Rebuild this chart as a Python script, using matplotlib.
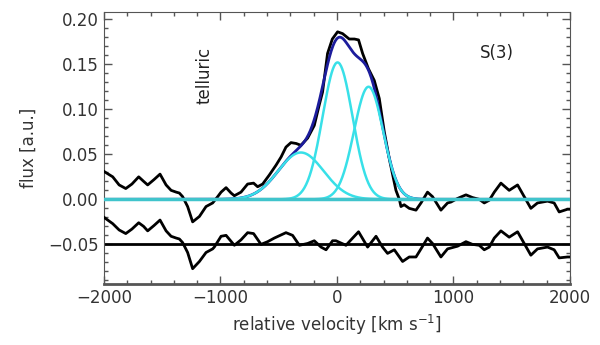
import matplotlib
matplotlib.use('Agg')
import matplotlib.pyplot as plt
import numpy as np

vel = [-2000, -1925, -1870, -1813, -1760, -1702, -1660, -1625, -1570, -1519,
       -1467, -1424, -1380, -1353, -1325, -1282, -1239, -1181, -1124, -1067,
       -1024, -995, -952, -909, -881, -824, -767, -716, -681, -638,
       -581, -523, -480, -438, -395, -350, -310, -252, -195, -152,
       -124, -81, -40, 5, 48, 105, 150, 185, 220, 270,
       320, 363, 406, 449, 506, 535, 549, 577, 620, 678,
       721, 777, 820, 892, 949, 978, 1035, 1107, 1163, 1221,
       1264, 1307, 1350, 1407, 1478, 1550, 1607, 1664, 1721, 1807,
       1864, 1907, 1978, 2000]
flux = [0.031, 0.025, 0.016, 0.012, 0.017, 0.025, 0.020, 0.016, 0.022, 0.028,
        0.016, 0.010, 0.008, 0.007, 0.003, -0.008, -0.025, -0.019, -0.008, -0.004,
        0.003, 0.008, 0.013, 0.007, 0.004, 0.008, 0.017, 0.018, 0.014, 0.017,
        0.027, 0.038, 0.047, 0.058, 0.063, 0.062, 0.060, 0.068, 0.082, 0.105,
        0.119, 0.162, 0.178, 0.186, 0.184, 0.178, 0.178, 0.177, 0.162, 0.145,
        0.132, 0.112, 0.075, 0.045, 0.010, 0.000, -0.008, -0.006, -0.010, -0.012,
        -0.004, 0.008, 0.003, -0.012, -0.004, -0.003, 0.001, 0.005, 0.002, 0.000,
        -0.004, -0.001, 0.008, 0.018, 0.010, 0.016, 0.003, -0.010, -0.004, -0.002,
        -0.004, -0.014, -0.011, -0.011]

# residuals, plotted with an offset of -0.05
res_vel = [-2000, -1925, -1870, -1813, -1760, -1702, -1660, -1625, -1570, -1519,
           -1467, -1424, -1380, -1353, -1325, -1282, -1239, -1181, -1124, -1067,
           -1053, -995, -952, -881, -824, -767, -716, -652, -595, -538,
           -438, -381, -323, -252, -195, -137, -94, -38, -9, 77,
           120, 185, 263, 335, 391, 434, 492, 563, 620, 678,
           721, 777, 820, 892, 949, 978, 1035, 1107, 1163, 1221,
           1264, 1307, 1350, 1407, 1478, 1550, 1607, 1664, 1721, 1807,
           1864, 1907, 1978, 2000]
res_flux = [-0.020, -0.027, -0.034, -0.038, -0.033, -0.026, -0.030, -0.035, -0.029, -0.023,
            -0.035, -0.041, -0.043, -0.044, -0.048, -0.059, -0.077, -0.069, -0.059, -0.055,
            -0.053, -0.041, -0.040, -0.051, -0.045, -0.037, -0.038, -0.050, -0.047, -0.043,
            -0.037, -0.040, -0.051, -0.049, -0.046, -0.053, -0.056, -0.046, -0.046, -0.051,
            -0.045, -0.036, -0.053, -0.041, -0.053, -0.060, -0.056, -0.069, -0.064, -0.064,
            -0.055, -0.043, -0.049, -0.064, -0.055, -0.054, -0.052, -0.047, -0.050, -0.051,
            -0.056, -0.053, -0.043, -0.035, -0.042, -0.036, -0.049, -0.062, -0.055, -0.053,
            -0.056, -0.065, -0.064, -0.064]

# gaussian components of the fit
comp_amp = [0.052, 0.152, 0.125]
comp_center = [-310, 5, 271]
comp_sigma = [195, 128, 125]


def execute():
    fig = plt.figure(figsize=(6, 3.45), dpi=100)
    ax = fig.add_axes([0.1733, 0.1768, 0.7767, 0.7884])

    v = np.linspace(-2000, 2000, 801)
    comps = [a * np.exp(-0.5 * ((v - c) / s) ** 2)
             for a, c, s in zip(comp_amp, comp_center, comp_sigma)]
    fit = np.sum(comps, axis=0)

    ax.axhline(-0.05, color='black', lw=2)
    ax.axhline(0.0, color='black', lw=1.5, zorder=2)
    ax.plot(vel, flux, color='black', lw=2, zorder=3)
    ax.plot(res_vel, res_flux, color='black', lw=2, zorder=3)
    ax.plot(v, fit, color='#1c1c9c', lw=2, zorder=4)
    for c in comps:
        ax.plot(v, c, color='#38e0e8', lw=1.8, zorder=5)
    ax.axhline(0.0, color='#40c4cc', lw=2.5, zorder=6)

    ax.text(-1138, 0.138, 'telluric', rotation=90, ha='center', va='center',
            fontsize=12, color='#222222')
    ax.text(1369, 0.162, 'S(3)', ha='center', va='center', fontsize=12, color='#222222')

    ax.set_xlim(-2000, 2000)
    ax.set_ylim(-0.094, 0.208)
    ax.set_xticks([-2000, -1000, 0, 1000, 2000])
    ax.set_xticks(np.arange(-2000, 2001, 200), minor=True)
    ax.set_yticks([-0.05, 0.0, 0.05, 0.10, 0.15, 0.20])
    ax.set_yticks(np.arange(-0.09, 0.205, 0.01), minor=True)
    ax.set_yticklabels(['\u22120.05', '0.00', '0.05', '0.10', '0.15', '0.20'])
    ax.set_xticklabels(['\u22122000', '\u22121000', '0', '1000', '2000'])
    ax.tick_params(which='both', direction='in', top=True, right=True,
                   colors='#555555', labelcolor='#333333', labelsize=12)
    ax.tick_params(which='major', length=6, width=1)
    ax.tick_params(which='minor', length=3, width=1)
    for sp in ax.spines.values():
        sp.set_color('#555555')
    ax.spines['bottom'].set_linewidth(2)

    ax.set_xlabel('relative velocity [km s$^{-1}$]', fontsize=12, color='#333333')
    ax.set_ylabel('flux [a.u.]', fontsize=12, color='#333333', labelpad=8)

    plt.savefig('out.png', dpi=100)


if __name__ == '__main__':
    execute()
